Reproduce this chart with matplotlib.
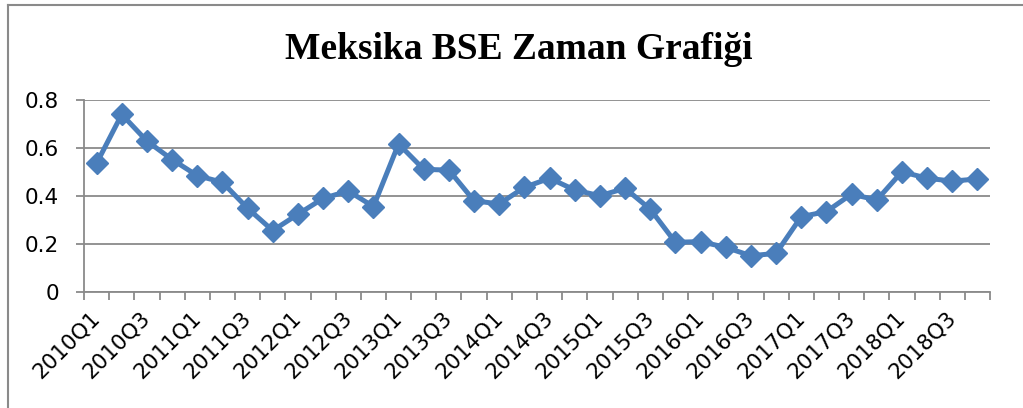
import matplotlib

matplotlib.use("Agg")
import matplotlib.pyplot as plt
from matplotlib.lines import Line2D
from matplotlib.ticker import FixedLocator, NullFormatter

# quarterly values
quarters = [f"{y}Q{q}" for y in range(2010, 2019) for q in range(1, 5)]
bse = [
    0.536, 0.740, 0.629, 0.552, 0.485, 0.457, 0.349, 0.256, 0.324, 0.390,
    0.421, 0.356, 0.617, 0.511, 0.508, 0.380, 0.367, 0.436, 0.474, 0.425,
    0.401, 0.432, 0.345, 0.207, 0.210, 0.186, 0.151, 0.161, 0.314, 0.335,
    0.408, 0.383, 0.501, 0.474, 0.462, 0.471,
]
yticks = [0, 0.2, 0.4, 0.6, 0.8]
ytick_labels = ["0", "0.2", "0.4", "0.6", "0.8"]
title = "Meksika BSE Zaman Grafiği"

W, H = 1023, 408
fig = plt.figure(figsize=(W / 100, H / 100), dpi=100)
ax = fig.add_axes([84 / W, 1 - 292 / H, (990 - 84) / W, (292 - 100) / H])

blue = "#4a7ebb"
grey = "#8a8a8a"
x = list(range(len(quarters)))
ax.plot(x, bse, color=blue, lw=3.6, marker="D", ms=11, mec=blue, mfc=blue,
        zorder=3, clip_on=False)

ax.set_xlim(-0.5, len(quarters) - 0.5)
ax.set_ylim(0, 0.8)
ax.set_yticks(yticks)
ax.set_yticklabels(ytick_labels)
ax.yaxis.grid(True, color=grey, lw=1.3)
ax.set_axisbelow(True)

# category labels every second quarter, tick marks between categories
ax.set_xticks(x[::2])
ax.set_xticklabels(quarters[::2], rotation=45, ha="right", va="center",
                   rotation_mode="anchor")
ax.xaxis.set_minor_locator(FixedLocator([i - 0.5 for i in range(len(quarters) + 1)]))
ax.xaxis.set_minor_formatter(NullFormatter())
ax.tick_params(axis="x", which="major", length=0, pad=16, labelsize=15.5)
ax.tick_params(axis="x", which="minor", length=6, width=1.3, color=grey)
ax.tick_params(axis="y", length=6, width=1.3, color=grey, pad=12, labelsize=15.5)
for lab in ax.get_xticklabels() + ax.get_yticklabels():
    lab.set_family("DejaVu Sans")

for side in ("top", "right"):
    ax.spines[side].set_visible(False)
for side in ("left", "bottom"):
    ax.spines[side].set_color(grey)
    ax.spines[side].set_linewidth(1.3)

fig.text(519 / W, 1 - 59 / H, title, ha="center", va="baseline",
         family="Liberation Serif", weight="bold", fontsize=27)

# chart area border (only left and top edges fall inside the image)
fig.add_artist(Line2D([8 / W, 8 / W], [0, 1 - 5 / H], color=grey, lw=1.5))
fig.add_artist(Line2D([8 / W, 1], [1 - 5 / H, 1 - 5 / H], color=grey, lw=1.5))

fig.savefig("out.png", dpi=100)
